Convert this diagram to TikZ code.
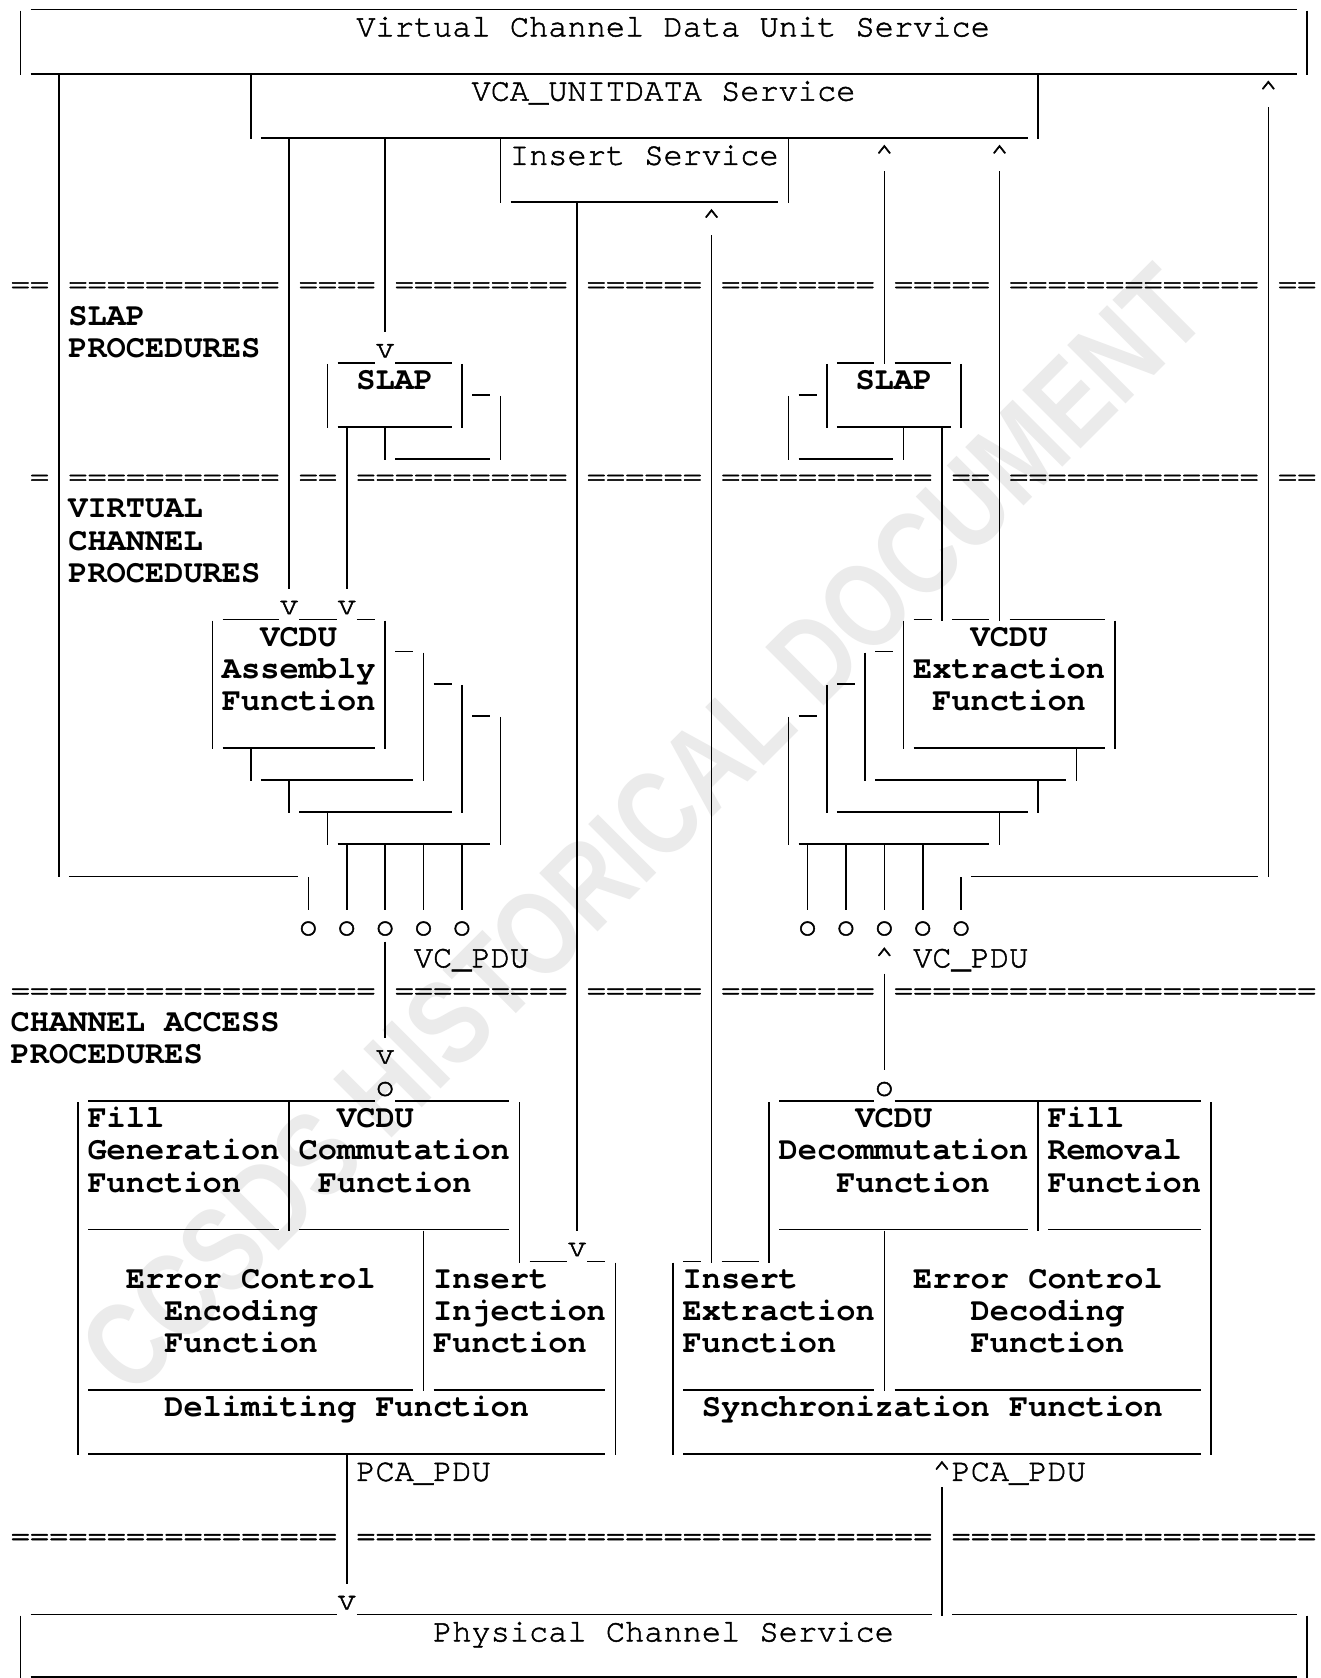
\documentclass[tikz,border=0pt]{standalone}
\usepackage{fontspec}
\usepackage{graphicx}
\newfontfamily\monof{TeX Gyre Cursor}
\newfontfamily\monor{TeX Gyre Cursor}[FakeBold=1.5]
\newfontfamily\wmf{Liberation Sans}
\ExplSyntaxOn
\NewDocumentCommand\eqs{m}{\prg_replicate:nn{#1}{=}}
\ExplSyntaxOff
\tikzset{
 ln/.style={line width=1.6pt, line cap=butt},
 tx/.style={anchor=base west, inner sep=0pt, outer sep=0pt, font=\monor\fontsize{32}{32}\selectfont},
 bx/.style={anchor=base west, inner sep=0pt, outer sep=0pt, font=\monof\bfseries\fontsize{32}{32}\selectfont},
 wm/.style={rotate=45, text=black!8, inner sep=0pt, font=\wmf\bfseries\fontsize{120}{120}\selectfont},
}
\newcommand\myV[3]{\draw[ln] ({#1},{#2-0.5}) -- ({#1},{#3+0.5});}
\newcommand\myH[3]{\draw[ln] ({#2-0.47},{#1+0.467}) -- ({#3+0.47},{#1+0.467});}
\newcommand\myT[4]{\node[tx] (#1) at ({#2-0.5},{#3+0.3}) {#4};}
\newcommand\myB[4]{\node[bx] (#1) at ({#2-0.5},{#3+0.3}) {#4};}
\begin{document}
\begin{tikzpicture}[x=19.2pt,y=-32.1pt]
\useasboundingbox (-1.059,-0.834) rectangle (67.74,51.44);
\fill[white] (-1.059,-0.834) rectangle (67.74,51.44);
% watermark
\node[wm] (watermark) at (32.4,25) {\scalebox{0.8}[1]{CCSDS HISTORICAL DOCUMENT}};
% ---------------- vertical lines
\myV{0}{0}{1} \myV{67}{0}{1}
\myV{12}{2}{3} \myV{53}{2}{3}
\myV{2}{2}{26}
\myV{65}{3}{26}
\myV{25}{4}{5} \myV{40}{4}{5}
\myV{14}{4}{17}
\myV{19}{4}{9}
\myV{29}{6}{37}
\myV{36}{7}{38}
\myV{45}{5}{10}
\myV{51}{5}{18}
\myV{16}{11}{12} \myV{23}{11}{12} \myV{25}{12}{13} \myV{17}{13}{17} \myV{19}{13}{13}
\myV{42}{11}{12} \myV{49}{11}{12} \myV{40}{12}{13} \myV{48}{13}{18} \myV{46}{13}{13}
\myV{10}{19}{22} \myV{19}{19}{22} \myV{21}{20}{23} \myV{23}{21}{24} \myV{25}{22}{25}
\myV{12}{23}{23} \myV{14}{24}{24} \myV{16}{25}{25}
\myV{15}{27}{27} \myV{17}{26}{27} \myV{19}{26}{27} \myV{21}{26}{27} \myV{23}{26}{27}
\myV{46}{19}{22} \myV{57}{19}{22} \myV{44}{20}{23} \myV{42}{21}{24} \myV{40}{22}{25}
\myV{55}{23}{23} \myV{53}{24}{24} \myV{51}{25}{25}
\myV{41}{26}{27} \myV{43}{26}{27} \myV{45}{26}{27} \myV{47}{26}{27} \myV{49}{27}{27}
\myV{19}{29}{31} \myV{45}{30}{32}
\myV{3}{34}{44} \myV{26}{34}{38} \myV{14}{34}{37} \myV{21}{38}{42} \myV{31}{39}{44}
\myV{39}{34}{38} \myV{62}{34}{44} \myV{53}{34}{37} \myV{45}{38}{42} \myV{34}{39}{44}
\myV{17}{45}{48} \myV{48}{46}{49}
\myV{0}{50}{51} \myV{67}{50}{51}
% ---------------- horizontal lines
\myH{-1}{1}{66} \myH{1}{1}{66} \myH{3}{13}{52} \myH{5}{26}{39}
\myH{10}{17}{18} \myH{10}{20}{22} \myH{11}{24}{24} \myH{12}{17}{22} \myH{13}{20}{24}
\myH{10}{43}{44} \myH{10}{46}{48} \myH{11}{41}{41} \myH{12}{43}{48} \myH{13}{41}{45}
\myH{18}{11}{13} \myH{18}{15}{16} \myH{18}{18}{18}
\myH{19}{20}{20} \myH{20}{22}{22} \myH{21}{24}{24}
\myH{22}{11}{18} \myH{23}{13}{20} \myH{24}{15}{22} \myH{25}{17}{24} \myH{26}{3}{14}
\myH{18}{47}{47} \myH{18}{49}{50} \myH{18}{52}{56}
\myH{19}{45}{45} \myH{20}{43}{43} \myH{21}{41}{41}
\myH{22}{47}{56} \myH{23}{45}{54} \myH{24}{43}{52} \myH{25}{41}{50} \myH{26}{50}{64}
\myH{33}{4}{18} \myH{33}{20}{25} \myH{37}{4}{13} \myH{37}{15}{25} \myH{38}{27}{28} \myH{38}{30}{30}
\myH{42}{4}{20} \myH{42}{22}{30} \myH{44}{4}{30}
\myH{33}{40}{44} \myH{33}{46}{61} \myH{37}{40}{52} \myH{37}{54}{61} \myH{38}{35}{35} \myH{38}{37}{38}
\myH{42}{35}{44} \myH{42}{46}{61} \myH{44}{35}{61}
\myH{49}{1}{16} \myH{49}{18}{47} \myH{49}{49}{66}
\draw[ln] (0.53,51.40) -- (66.47,51.40);
% ---------------- layer separators
\myT{e8a}{0}{8}{\eqs{2}} \myT{e8b}{3}{8}{\eqs{11}} \myT{e8c}{15}{8}{\eqs{4}}
\myT{e8d}{20}{8}{\eqs{9}} \myT{e8e}{30}{8}{\eqs{6}} \myT{e8f}{37}{8}{\eqs{8}}
\myT{e8g}{46}{8}{\eqs{5}} \myT{e8h}{52}{8}{\eqs{13}} \myT{e8i}{66}{8}{\eqs{2}}
\myT{e14a}{1}{14}{\eqs{1}} \myT{e14b}{3}{14}{\eqs{11}} \myT{e14c}{15}{14}{\eqs{2}}
\myT{e14d}{18}{14}{\eqs{11}} \myT{e14e}{30}{14}{\eqs{6}} \myT{e14f}{37}{14}{\eqs{11}}
\myT{e14g}{49}{14}{\eqs{2}} \myT{e14h}{52}{14}{\eqs{13}} \myT{e14i}{66}{14}{\eqs{2}}
\myT{e30a}{0}{30}{\eqs{19}} \myT{e30b}{20}{30}{\eqs{9}} \myT{e30c}{30}{30}{\eqs{6}}
\myT{e30d}{37}{30}{\eqs{8}} \myT{e30e}{46}{30}{\eqs{22}}
\myT{e47a}{0}{47}{\eqs{17}} \myT{e47b}{18}{47}{\eqs{30}} \myT{e47c}{49}{47}{\eqs{19}}
% ---------------- service texts
\myT{vcdus}{18}{0}{Virtual Channel Data Unit Service}
\myT{vcas}{24}{2}{VCA\_UNITDATA Service}
\myT{inss}{26}{4}{Insert Service}
\myT{vcpduL}{21}{29}{VC\_PDU}
\myT{vcpduR}{47}{29}{VC\_PDU}
\myT{pcapduL}{18}{45}{PCA\_PDU}
\myT{pcapduR}{49}{45}{PCA\_PDU}
\myT{phys}{22}{50}{Physical Channel Service}
% ---------------- bold labels
\myB{slapA}{3}{9}{SLAP} \myB{slapB}{3}{10}{PROCEDURES}
\myB{slapL}{18}{11}{SLAP} \myB{slapR}{44}{11}{SLAP}
\myB{vcA}{3}{15}{VIRTUAL} \myB{vcB}{3}{16}{CHANNEL} \myB{vcC}{3}{17}{PROCEDURES}
\myB{asmA}{13}{19}{VCDU} \myB{asmB}{11}{20}{Assembly} \myB{asmC}{11}{21}{Function}
\myB{extA}{50}{19}{VCDU} \myB{extB}{47}{20}{Extraction} \myB{extC}{48}{21}{Function}
\myB{capA}{0}{31}{CHANNEL ACCESS} \myB{capB}{0}{32}{PROCEDURES}
\myB{fgA}{4}{34}{Fill} \myB{fgB}{4}{35}{Generation} \myB{fgC}{4}{36}{Function}
\myB{comA}{17}{34}{VCDU} \myB{comB}{15}{35}{Commutation} \myB{comC}{16}{36}{Function}
\myB{eceA}{6}{39}{Error Control} \myB{eceB}{8}{40}{Encoding} \myB{eceC}{8}{41}{Function}
\myB{iiA}{22}{39}{Insert} \myB{iiB}{22}{40}{Injection} \myB{iiC}{22}{41}{Function}
\myB{delim}{8}{43}{Delimiting Function}
\myB{dcmA}{44}{34}{VCDU} \myB{dcmB}{40}{35}{Decommutation} \myB{dcmC}{43}{36}{Function}
\myB{frA}{54}{34}{Fill} \myB{frB}{54}{35}{Removal} \myB{frC}{54}{36}{Function}
\myB{ieA}{35}{39}{Insert} \myB{ieB}{35}{40}{Extraction} \myB{ieC}{35}{41}{Function}
\myB{ecdA}{47}{39}{Error Control} \myB{ecdB}{50}{40}{Decoding} \myB{ecdC}{50}{41}{Function}
\myB{sync}{36}{43}{Synchronization Function}
% ---------------- ports and arrow marks
\myT{oL1}{15}{28}{o} \myT{oL2}{17}{28}{o} \myT{oL3}{19}{28}{o} \myT{oL4}{21}{28}{o} \myT{oL5}{23}{28}{o}
\myT{oR1}{41}{28}{o} \myT{oR2}{43}{28}{o} \myT{oR3}{45}{28}{o} \myT{oR4}{47}{28}{o} \myT{oR5}{49}{28}{o}
\myT{oCL}{19}{33}{o} \myT{oCR}{45}{33}{o}
\myT{vA}{19}{10}{v} \myT{vB}{14}{18}{v} \myT{vC}{17}{18}{v} \myT{vD}{19}{32}{v} \myT{vE}{29}{38}{v} \myT{vF}{17}{49}{v}
\myT{cA}{65}{2}{\textasciicircum} \myT{cB}{45}{4}{\textasciicircum} \myT{cC}{51}{4}{\textasciicircum}
\myT{cD}{36}{6}{\textasciicircum} \myT{cE}{45}{29}{\textasciicircum} \myT{cF}{48}{45}{\textasciicircum}
\end{tikzpicture}
\end{document}
